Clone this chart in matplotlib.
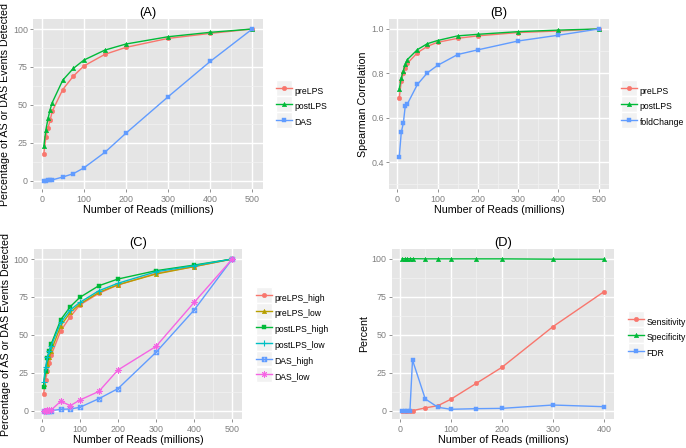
import numpy as np
import matplotlib
matplotlib.use('Agg')
import matplotlib.pyplot as plt
from matplotlib.legend_handler import HandlerLine2D
from matplotlib.patches import Rectangle
from matplotlib.path import Path
from matplotlib.ticker import MultipleLocator

plt.rcParams['font.family'] = ['Liberation Sans', 'DejaVu Sans']

# number of reads (millions)
reads = [5, 10, 15, 20, 25, 50, 75, 100, 150, 200, 300, 400, 500]
reads_d = reads[:-1]

# (A) percentage of AS / DAS events detected
a_pre = [17.8, 28.9, 34.8, 39.9, 45.8, 60.1, 68.9, 75.6, 83.3, 87.9, 93.8, 97.1, 100]
a_post = [22.7, 33.7, 41.0, 46.9, 51.5, 66.3, 74.0, 79.5, 86.1, 90.1, 94.9, 97.8, 100]
a_das = [0.0, 0.0, 0.2, 0.4, 0.5, 2.4, 4.6, 8.4, 18.7, 31.3, 55.3, 78.6, 100]

# (B) spearman correlation
b_pre = [0.69, 0.765, 0.80, 0.825, 0.845, 0.893, 0.922, 0.94, 0.958, 0.969, 0.984, 0.991, 1.0]
b_post = [0.73, 0.78, 0.812, 0.842, 0.862, 0.907, 0.934, 0.948, 0.969, 0.976, 0.988, 0.995, 1.0]
b_fold = [0.425, 0.535, 0.575, 0.655, 0.662, 0.75, 0.803, 0.836, 0.885, 0.906, 0.946, 0.972, 1.0]

# (C) high / low expression
c_pre_high = [11.0, 20.2, 26.4, 31.2, 36.7, 52.7, 62.0, 69.7, 77.4, 82.9, 90.5, 95.0, 100]
c_pre_low = [17.6, 26.4, 30.8, 35.2, 39.6, 56.0, 64.8, 70.3, 78.0, 83.0, 90.1, 95.0, 100]
c_post_high = [15.8, 26.4, 34.5, 39.6, 44.0, 60.0, 68.6, 74.7, 82.4, 86.8, 92.3, 96.0, 100]
c_post_low = [18.7, 28.6, 35.2, 39.6, 42.9, 58.2, 66.4, 71.4, 79.1, 84.0, 91.6, 95.6, 100]
c_das_high = [0.0, 0.0, 0.0, 0.0, 0.0, 0.9, 1.1, 2.2, 7.9, 14.5, 38.5, 66.4, 100]
c_das_low = [0.0, 0.0, 0.3, 0.5, 0.5, 6.2, 3.3, 7.0, 12.7, 26.8, 42.4, 71.4, 100]

# (D) percent
d_sens = [0.0, 0.0, 0.0, 0.0, 0.0, 1.8, 3.3, 7.5, 18.0, 28.5, 55.3, 78.3]
d_spec = [100, 100, 100, 100, 100, 99.9, 99.9, 99.9, 99.9, 99.9, 99.7, 99.7]
d_fdr = [0.0, 0.0, 0.0, 0.0, 33.3, 7.7, 2.2, 0.9, 1.3, 1.5, 3.7, 2.6]

RED, GREEN, BLUE = '#F8766D', '#00BA38', '#619CFF'
OLIVE, CYAN, PINK = '#B79F00', '#00BFC4', '#F564E3'

W, H = 686, 448

# square with a cross inside (ggplot shape 7)
box_x = Path([(-1, -1), (1, -1), (1, 1), (-1, 1), (-1, -1), (-1, -1), (1, 1), (-1, 1), (1, -1)],
             [Path.MOVETO, Path.LINETO, Path.LINETO, Path.LINETO, Path.CLOSEPOLY,
              Path.MOVETO, Path.LINETO, Path.MOVETO, Path.LINETO])


class KeyBox(HandlerLine2D):
	# grey legend key behind the line, like ggplot
	def create_artists(self, legend, orig_handle, xdescent, ydescent, width, height, fontsize, trans):
		arts = super().create_artists(legend, orig_handle, xdescent, ydescent, width, height, fontsize, trans)
		yc = (height - ydescent) / 2
		box = Rectangle((-xdescent, yc - width / 2), width, width, facecolor='#F2F2F2',
						edgecolor='white', lw=1.0, transform=trans)
		return [box] + list(arts)


def make_axes(fig, left, right, top, bottom):
	return fig.add_axes([left / W, 1 - bottom / H, (right - left) / W, (bottom - top) / H])


def style_axes(ax, xlim, ylim, xstep, ystep, title, ylabel):
	ax.set_facecolor('#E5E5E5')
	for s in ax.spines.values():
		s.set_visible(False)
	ax.set_xlim(*xlim)
	ax.set_ylim(*ylim)
	ax.xaxis.set_major_locator(MultipleLocator(xstep))
	ax.xaxis.set_minor_locator(MultipleLocator(xstep / 2))
	ax.yaxis.set_major_locator(MultipleLocator(ystep))
	ax.yaxis.set_minor_locator(MultipleLocator(ystep / 2))
	ax.grid(which='major', color='white', lw=1.0)
	ax.grid(which='minor', color='#F2F2F2', lw=0.5)
	ax.set_axisbelow(True)
	ax.tick_params(which='major', length=2.5, width=0.6, color='#7F7F7F', labelcolor='#7F7F7F',
				   labelsize=6.4, pad=1.5)
	ax.tick_params(which='minor', length=0)
	ax.set_title(title, fontsize=9.3, pad=1.5)
	ax.set_xlabel('Number of Reads (millions)', fontsize=7.7, labelpad=1)
	ax.set_ylabel(ylabel, fontsize=7.7, labelpad=2)


def add_legend(fig, ax, x, y):
	leg = ax.legend(loc='upper left', bbox_to_anchor=(x / W, 1 - y / H), bbox_transform=fig.transFigure,
					frameon=False, fontsize=6.2, borderpad=0, borderaxespad=0, handlelength=1.82,
					handleheight=2.45, labelspacing=0, handletextpad=0.35,
					handler_map={matplotlib.lines.Line2D: KeyBox()})
	return leg


def series(ax, x, y, color, marker, label, ms=3.3, mfc=None, mew=0.3):
	ax.plot(x, y, color=color, lw=1.0, marker=marker, ms=ms, label=label,
			mfc=color if mfc is None else mfc, mec=color, mew=mew)


def main():
	fig = plt.figure(figsize=(W / 100, H / 100), dpi=100)

	# (A)
	ax = make_axes(fig, 33.4, 262.7, 19, 189)
	series(ax, reads, a_pre, RED, 'o', 'preLPS')
	series(ax, reads, a_post, GREEN, '^', 'postLPS')
	series(ax, reads, a_das, BLUE, 's', 'DAS', ms=3.0)
	style_axes(ax, (-19.75, 524.75), (-5.5, 106.6), 100, 25, '(A)',
			   'Percentage of AS or DAS Events Detected')
	add_legend(fig, ax, 276, 83)

	# (B)
	ax = make_axes(fig, 389.3, 608.7, 19, 189)
	series(ax, reads, b_pre, RED, 'o', 'preLPS')
	series(ax, reads, b_post, GREEN, '^', 'postLPS')
	series(ax, reads, b_fold, BLUE, 's', 'foldChange', ms=3.0)
	style_axes(ax, (-19.75, 524.75), (0.279, 1.045), 100, 0.2, '(B)', 'Spearman Correlation')
	add_legend(fig, ax, 621, 83)

	# (C)
	ax = make_axes(fig, 34.2, 241.7, 249, 419)
	series(ax, reads, c_pre_high, RED, 'o', 'preLPS_high')
	series(ax, reads, c_pre_low, OLIVE, '^', 'preLPS_low')
	series(ax, reads, c_post_high, GREEN, 's', 'postLPS_high', ms=3.0)
	series(ax, reads, c_post_low, CYAN, '+', 'postLPS_low', ms=4.5, mew=0.8)
	series(ax, reads, c_das_high, BLUE, box_x, 'DAS_high', ms=3.2, mfc='none', mew=0.7)
	series(ax, reads, c_das_low, PINK, (8, 2, 0), 'DAS_low', ms=4.5, mew=0.7)
	style_axes(ax, (-19.75, 524.75), (-5.5, 106.6), 100, 25, '(C)',
			   'Percentage of AS or DAS Events Detected')
	add_legend(fig, ax, 256, 290)

	# (D)
	ax = make_axes(fig, 392.2, 614.1, 249, 419)
	series(ax, reads_d, d_sens, RED, 'o', 'Sensitivity')
	series(ax, reads_d, d_spec, GREEN, '^', 'Specificity')
	series(ax, reads_d, d_fdr, BLUE, 's', 'FDR', ms=3.0)
	style_axes(ax, (-14.75, 419.75), (-5.5, 106.4), 100, 25, '(D)', 'Percent')
	add_legend(fig, ax, 628, 314)

	fig.savefig('out.png', dpi=100)


if __name__ == "__main__":
	main()
